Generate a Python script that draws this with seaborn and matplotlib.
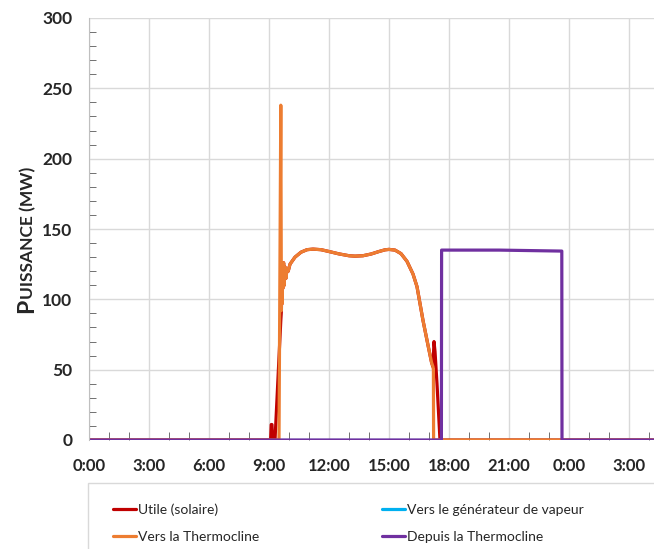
import pandas as pd
import seaborn as sns
import matplotlib.pyplot as plt
from matplotlib.patches import Rectangle
from matplotlib.ticker import MultipleLocator, FixedLocator

# Series (hours since midnight, MW)
utile_h = [0, 9.08, 9.11, 9.15, 9.18, 9.30, 9.59, 9.62, 9.64, 9.66, 9.68, 9.70, 9.73, 9.76,
           9.80, 9.85, 9.90, 9.96, 10.05, 10.3, 10.6, 10.9, 11.2, 11.6, 12.0, 12.5, 13.0,
           13.3, 13.7, 14.1, 14.5, 14.8, 15.0, 15.3, 15.6, 15.9, 16.2, 16.4, 16.7, 16.97,
           17.13, 17.2, 17.25, 17.3, 17.4, 17.55, 28.25]
utile_mw = [0, 0, 11, 11, 0, 0, 85, 92, 125, 97, 124, 108, 126, 110,
            123, 115, 122, 120, 125, 130, 133.5, 135.3, 135.7, 135.3, 134, 132.3, 131,
            130.7, 131, 132.2, 134, 135.2, 135.5, 135, 132.5, 127, 118, 109, 85, 66,
            55, 52, 70, 63, 40, 0, 0]

gen_h = [0, 28.25]
gen_mw = [0, 0]

vers_h = [0, 9.50, 9.59, 9.62, 9.64, 9.66, 9.68, 9.70, 9.73, 9.76, 9.80, 9.85, 9.90, 9.96,
          10.05, 10.3, 10.6, 10.9, 11.2, 11.6, 12.0, 12.5, 13.0, 13.3, 13.7, 14.1, 14.5,
          14.8, 15.0, 15.3, 15.6, 15.9, 16.2, 16.4, 16.7, 16.97, 17.13, 17.2, 17.22, 17.23,
          28.25]
vers_mw = [0, 0, 238, 92, 125, 97, 124, 108, 126, 110, 123, 115, 122, 120,
           125, 130, 133.5, 135.3, 135.7, 135.3, 134, 132.3, 131, 130.7, 131, 132.2, 134,
           135.2, 135.5, 135, 132.5, 127, 118, 109, 85, 66, 55, 52, 50, 0,
           0]

depuis_h = [0, 17.62, 17.63, 20.5, 23.64, 23.65, 28.25]
depuis_mw = [0, 0, 135, 135, 134.3, 0, 0]

series_names = ["Utile (solaire)", "Vers le générateur de vapeur",
                "Vers la Thermocline", "Depuis la Thermocline"]
colors = ["#C00000", "#00B0F0", "#ED7D31", "#7030A0"]

tick_hours = [0, 3, 6, 9, 12, 15, 18, 21, 24, 27]
tick_labels = ["0:00", "3:00", "6:00", "9:00", "12:00", "15:00", "18:00", "21:00", "0:00", "3:00"]

frames = []
for name, h, mw in zip(series_names, [utile_h, gen_h, vers_h, depuis_h],
                       [utile_mw, gen_mw, vers_mw, depuis_mw]):
    frames.append(pd.DataFrame({"heure": h, "puissance": mw, "serie": name}))
df = pd.concat(frames, ignore_index=True)

sns.set_style("white")
plt.rcParams["font.family"] = ["Lato", "DejaVu Sans"]

W, H = 654, 549
fig = plt.figure(figsize=(W / 100, H / 100), dpi=100)
ax = fig.add_axes([89 / W, 1 - 440 / H, 1 - 89 / W, (440 - 18) / H])

sns.lineplot(data=df, x="heure", y="puissance", hue="serie", hue_order=series_names,
             palette=dict(zip(series_names, colors)), sort=False, estimator=None,
             linewidth=2.3, legend=False, ax=ax)

ax.set_xlim(0, 28.25)
ax.set_ylim(0, 300)
ax.xaxis.set_major_locator(FixedLocator(tick_hours))
ax.set_xticklabels(tick_labels)
ax.xaxis.set_minor_locator(MultipleLocator(1))
ax.yaxis.set_major_locator(MultipleLocator(50))
ax.yaxis.set_minor_locator(MultipleLocator(10))
ax.grid(True, which="major", color="#d9d9d9", linewidth=1)
ax.set_axisbelow(True)
for s in ["top", "right", "bottom"]:
    ax.spines[s].set_visible(False)
ax.spines["left"].set_color("#bfbfbf")
ax.tick_params(axis="both", which="both", direction="in", color="#595959")
ax.tick_params(axis="x", which="minor", length=6, bottom=True)
ax.tick_params(axis="x", which="major", length=0, pad=13, labelsize=12)
ax.tick_params(axis="y", which="minor", length=5, left=True)
ax.tick_params(axis="y", which="major", length=0, pad=12, labelsize=12.5)
for lbl in ax.get_xticklabels() + ax.get_yticklabels():
    lbl.set_fontweight("bold")
ax.set_xlabel("")
ax.set_ylabel("")

# y label in small caps: big "P" then smaller "UISSANCE (MW)"
p = fig.text(33 / W, 236 / H, "P", rotation=90, rotation_mode="anchor",
             ha="left", va="baseline", fontsize=16.5, fontweight="bold")
fig.canvas.draw()
bb = p.get_window_extent()
fig.text(33 / W, bb.y1 / fig.bbox.height, "UISSANCE (MW)", rotation=90,
         rotation_mode="anchor", ha="left", va="baseline", fontsize=12.5, fontweight="bold")

# legend frame below the plot, running off the bottom/right edge
fig.patches.append(Rectangle((88 / W, -0.05), 1, 1 - 483 / H + 0.05,
                             transform=fig.transFigure, fill=False,
                             edgecolor="#d9d9d9", linewidth=1))
lines = ax.get_lines()[:4]
order = [0, 2, 1, 3]
leg = ax.legend([lines[i] for i in order], [series_names[i] for i in order],
                loc="upper left", ncol=2,
                bbox_to_anchor=(113 / W, 1 - 503 / H), bbox_transform=fig.transFigure,
                frameon=False, fontsize=10, handlelength=1.65,
                handletextpad=0.15, columnspacing=8.85, borderpad=0,
                labelspacing=1.12, borderaxespad=0)

fig.savefig("out.png", dpi=100)
